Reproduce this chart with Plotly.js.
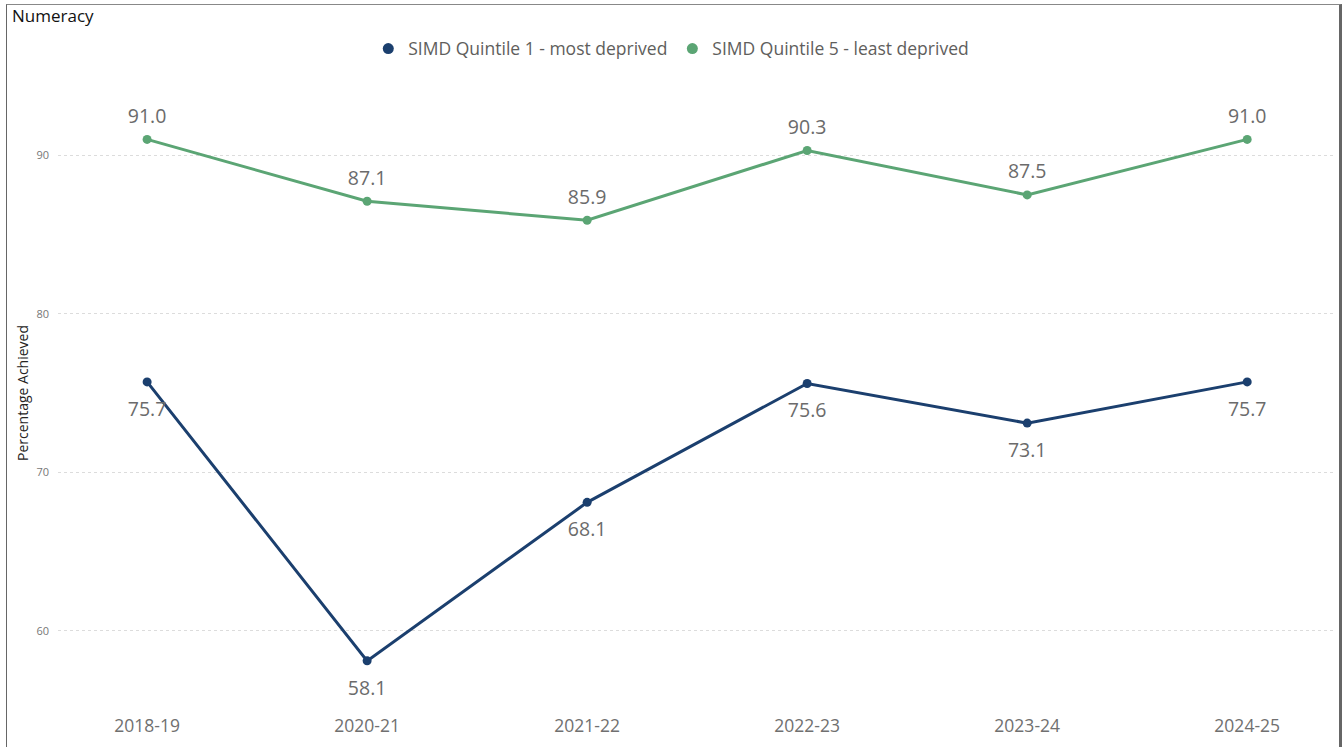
<!DOCTYPE html>
<html>
<head>
<meta charset="utf-8">
<script src="https://cdn.plot.ly/plotly-3.0.1.min.js"></script>
<style>
  body { margin: 0; background: #fff; }
  #chart { position: absolute; left: 0; top: 0; width: 1342px; height: 747px; }
  #frame { position: absolute; left: 6px; top: 4px; width: 1332px; height: 760px;
           border-left: 1px solid #666; border-top: 1px solid #888; border-right: 3px solid #666;
           pointer-events: none; }
</style>
</head>
<body>
<div id="chart"></div>
<div id="frame"></div>
<script>
var years = ["2018-19", "2020-21", "2021-22", "2022-23", "2023-24", "2024-25"];
var quintile1 = [75.7, 58.1, 68.1, 75.6, 73.1, 75.7];
var quintile5 = [91.0, 87.1, 85.9, 90.3, 87.5, 91.0];
var yTicks = [60, 70, 80, 90];

var navy = "#1B3F6E";
var green = "#5BA574";
var fontFamily = "Open Sans, Segoe UI, sans-serif";
var labelFont = { family: fontFamily, size: 19.5, color: "#6b6b6b" };

function fmt(v) { return v.toFixed(1); }

function lineTrace(y, color) {
  return {
    x: years, y: y,
    mode: "lines+markers",
    line: { color: color, width: 3 },
    marker: { color: color, size: 9 },
    showlegend: false,
    cliponaxis: false
  };
}

// labels carried by invisible markers so they sit further from the points
function labelTrace(y, pos, size) {
  return {
    x: years, y: y,
    mode: "markers+text",
    marker: { color: "rgba(0,0,0,0)", size: size },
    text: y.map(fmt),
    textposition: pos,
    textfont: labelFont,
    showlegend: false,
    cliponaxis: false
  };
}

// legend-only entries so the legend shows dots
var legendQ1 = { x: [null], y: [null], mode: "markers", name: "SIMD Quintile 1 - most deprived",
  marker: { color: navy, size: 11 } };
var legendQ5 = { x: [null], y: [null], mode: "markers", name: "SIMD Quintile 5 - least deprived",
  marker: { color: green, size: 11 } };

var layout = {
  width: 1342, height: 747,
  margin: { l: 58, r: 9, t: 76, b: 37, autoexpand: false },
  paper_bgcolor: "#fff",
  plot_bgcolor: "#fff",
  font: { family: fontFamily, color: "#666" },
  title: {
    text: "Numeracy",
    xref: "container", yref: "container",
    x: 12 / 1342, xanchor: "left",
    y: 1 - 16 / 747, yanchor: "middle",
    font: { size: 17, color: "#111" }
  },
  legend: {
    orientation: "h",
    x: 0.481, xanchor: "center",
    y: 1.043, yanchor: "middle",
    font: { size: 17.5, color: "#605E5C" },
    itemwidth: 30
  },
  xaxis: {
    type: "category",
    range: [-0.405, 5.39],
    showgrid: false, zeroline: false, showline: false,
    tickfont: { size: 17.5, color: "#707070" },
    ticklabelstandoff: 3
  },
  yaxis: {
    range: [55, 95],
    tickvals: yTicks,
    showgrid: true,
    gridcolor: "#dcdcdc",
    griddash: "dot",
    gridwidth: 1,
    zeroline: false, showline: false,
    tickfont: { size: 11, color: "#777" },
    ticklabelstandoff: 8,
    title: { text: "Percentage Achieved", font: { size: 14, color: "#252423" }, standoff: 4 }
  }
};

var data = [
  lineTrace(quintile1, navy),
  lineTrace(quintile5, green),
  labelTrace(quintile1, "bottom center", 29),
  labelTrace(quintile5, "top center", 17),
  legendQ1, legendQ5
];

Plotly.newPlot("chart", data, layout, { displayModeBar: false, staticPlot: true });
</script>
</body>
</html>
